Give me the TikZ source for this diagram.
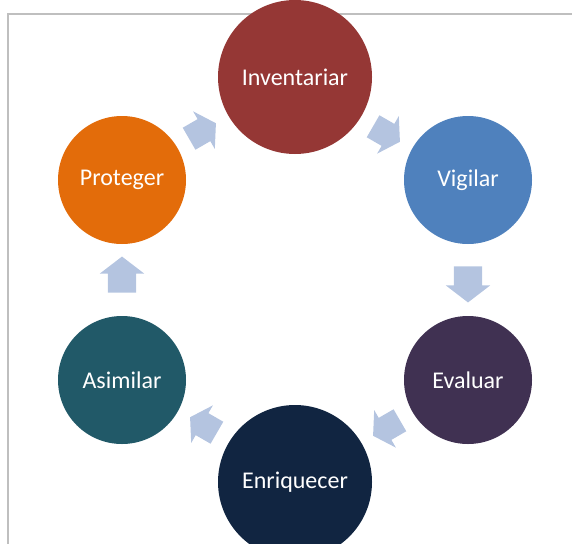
\documentclass[tikz,border=0pt]{standalone}
\usepackage{fontspec}
\setmainfont{Carlito}
\usetikzlibrary{positioning, shapes.arrows}
\definecolor{wine}{RGB}{149,55,53}
\definecolor{blue}{RGB}{79,129,189}
\definecolor{orange}{RGB}{227,108,10}
\definecolor{plum}{RGB}{64,49,82}
\definecolor{teal}{RGB}{33,89,104}
\definecolor{navy}{RGB}{17,37,65}
\definecolor{arrowblue}{RGB}{180,196,224}
\definecolor{framegray}{RGB}{191,191,191}

\begin{document}
\begin{tikzpicture}[
    x=1pt, y=-1pt,
    phase/.style={circle,
        minimum size=128pt,
        inner sep=0pt,
        text=white,
        font=\fontsize{24}{29}\selectfont,
        },
    phase_big/.style={phase,
        minimum size=154pt,
        },
    arrow_long/.style={single arrow,
        fill=arrowblue,
        minimum height=36pt,
        minimum width=44pt,
        single arrow head extend=8pt,
        single arrow tip angle=105,
        inner xsep=0pt,
        inner ysep=14pt,
        },
    arrow_short/.style={single arrow,
        fill=arrowblue,
        minimum height=31pt,
        minimum width=43pt,
        single arrow head extend=9pt,
        single arrow tip angle=115,
        inner xsep=0pt,
        inner ysep=12.5pt,
        },
    ]
    \clip (0,0) rectangle (572,543);
    \draw[line width=2pt, color=framegray] (8,560) -- (8,14) -- (590,14);

    \node[phase_big, fill=wine] (inv) at (295,77) {Inventariar};
    \node[phase, fill=blue] (vig) at (468,180) {Vigilar};
    \node[phase, fill=plum] (eva) at (468,380) {Evaluar};
    \node[phase_big, fill=navy] (enr) at (295,482) {Enriquecer};
    \node[phase, fill=teal] (asi) at (122,380) {Asimilar};
    \node[phase, fill=orange] (pro) at (122,180) {Proteger};

    \node[arrow_short, rotate=-30] (a_inv_vig) at (383,132) {};
    \node[arrow_long, rotate=-90] (a_vig_eva) at (468,279) {};
    \node[arrow_short, rotate=210] (a_eva_enr) at (390,426) {};
    \node[arrow_short, rotate=150] (a_enr_asi) at (207,427) {};
    \node[arrow_long, rotate=90] (a_asi_pro) at (122,280) {};
    \node[arrow_short, rotate=30] (a_pro_inv) at (199,133) {};

\end{tikzpicture}
\end{document}
